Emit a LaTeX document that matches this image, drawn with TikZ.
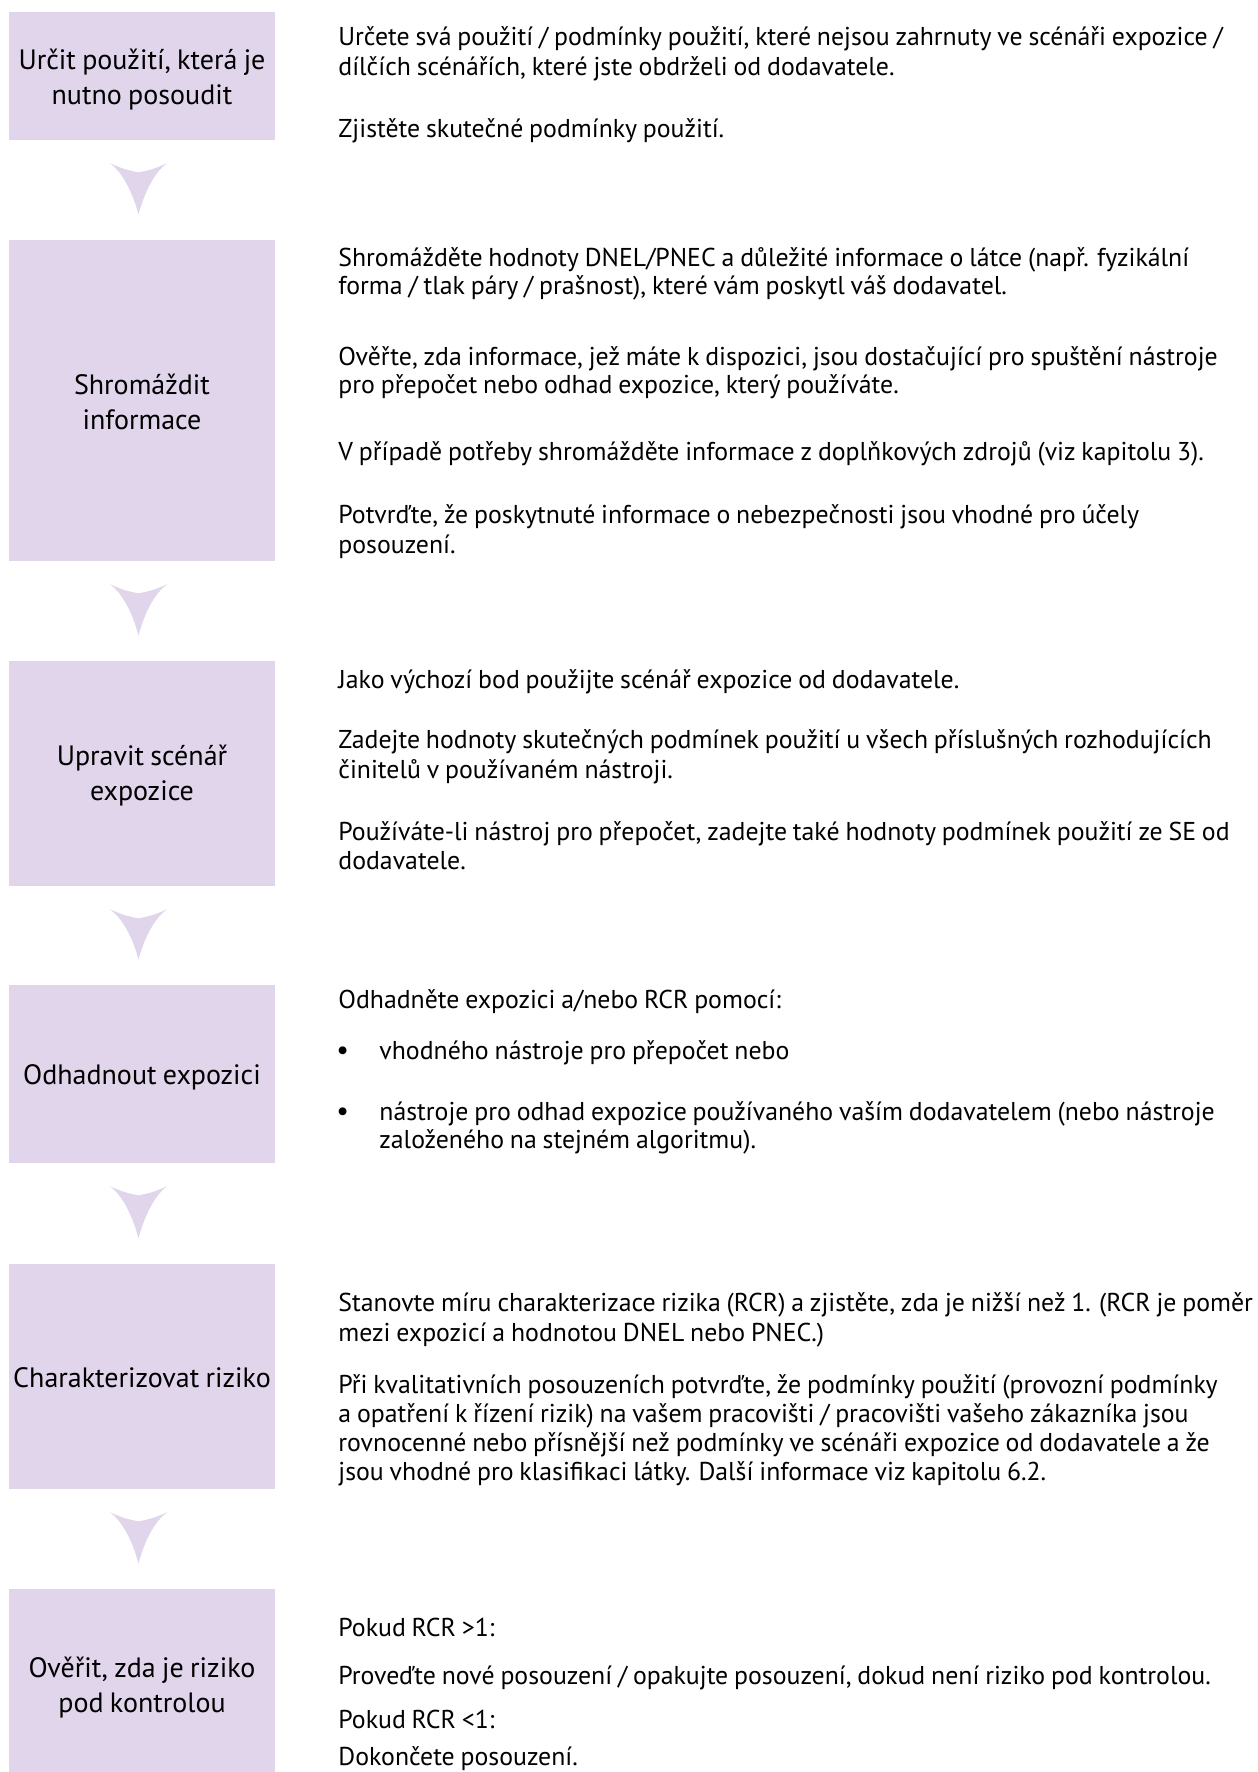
\documentclass[tikz,border=0pt]{standalone}
\usepackage{fontspec}
\setmainfont[WordSpace=0.85]{PT Sans}
\usetikzlibrary{calc}
\definecolor{lav}{RGB}{224,213,235}
\tikzset{
  stepbox/.style={fill=lav, inner sep=0pt, minimum width=133pt},
  boxlabel/.style={inner sep=0pt, align=center, font=\fontsize{14}{17.5}\selectfont},
  rt/.style={anchor=base west, inner sep=0pt, font=\fontsize{12.9}{15}\selectfont},
  flowarrow/.style={fill=lav},
}
\newcommand{\flowarr}[2]{%
  \fill[flowarrow] let \p1=($(#1.south)+(-3.5,23)$), \p2=($(#2.north)+(-3.5,-25)$) in
    (\x1-14.25pt,\y1) .. controls (\x1-7pt,\y1-3pt) .. (\x1,\y1-4.5pt)
    .. controls (\x1+7pt,\y1-3pt) .. (\x1+14.25pt,\y1)
    .. controls (\x1+7pt,\y1-5pt) and (\x1+2pt,\y2+8pt) .. (\x1,\y2)
    .. controls (\x1-2pt,\y2+8pt) and (\x1-7pt,\y1-5pt) .. cycle;}
\begin{document}
\begin{tikzpicture}[x=0.5pt,y=-0.5pt]
\useasboundingbox (0,0) rectangle (1258,1772);
% boxes
\node[stepbox, minimum height=64pt] (b1) at (142,76) {};
\node[stepbox, minimum height=160.5pt] (b2) at (142,400.5) {};
\node[stepbox, minimum height=112.5pt] (b3) at (142,773.5) {};
\node[stepbox, minimum height=89pt] (b4) at (142,1074) {};
\node[stepbox, minimum height=112.5pt] (b5) at (142,1376.5) {};
\node[stepbox, minimum height=91.5pt] (b6) at (142,1680.5) {};
% box labels
\node[boxlabel] (l1) at ($(b1.center)+(0,4)$) {Určit použití, která je\\nutno posoudit};
\node[boxlabel] (l2) at ($(b2.center)+(0,1)$) {Shromáždit\\informace};
\node[boxlabel] (l3) at ($(b3.center)+(0,2)$) {Upravit scénář\\expozice};
\node[boxlabel] (l4) at ($(b4.center)+(0,3)$) {Odhadnout expozici};
\node[boxlabel] (l5) at ($(b5.center)+(0,1)$) {Charakterizovat riziko};
\node[boxlabel] (l6) at ($(b6.center)+(0,7)$) {Ověřit, zda je riziko\\pod kontrolou};
% arrows
\flowarr{b1}{b2}
\flowarr{b2}{b3}
\flowarr{b3}{b4}
\flowarr{b4}{b5}
\flowarr{b5}{b6}
% texts box 1
\node[rt] (r1a) at (338,46) {Určete svá použití / podmínky použití, které nejsou zahrnuty ve scénáři expozice /};
\node[rt] (r1b) at (338,75) {dílčích scénářích, které jste obdrželi od dodavatele.};
\node[rt] (r1c) at (338,137) {Zjistěte skutečné podmínky použití.};
% box 2
\node[rt] (r2a) at (338,266) {Shromážděte hodnoty DNEL/PNEC a důležité informace o látce (např. fyzikální};
\node[rt] (r2b) at (338,294) {forma / tlak páry / prašnost), které vám poskytl váš dodavatel.};
\node[rt] (r2c) at (338,365) {Ověřte, zda informace, jež máte k dispozici, jsou dostačující pro spuštění nástroje};
\node[rt] (r2d) at (338,393) {pro přepočet nebo odhad expozice, který používáte.};
\node[rt] (r2e) at (338,460) {V případě potřeby shromážděte informace z doplňkových zdrojů (viz kapitolu 3).};
\node[rt] (r2f) at (338,523) {Potvrďte, že poskytnuté informace o nebezpečnosti jsou vhodné pro účely};
\node[rt] (r2g) at (338,553) {posouzení.};
% box 3
\node[rt] (r3a) at (338,688) {Jako výchozí bod použijte scénář expozice od dodavatele.};
\node[rt] (r3b) at (338,748) {Zadejte hodnoty skutečných podmínek použití u všech příslušných rozhodujících};
\node[rt] (r3c) at (338,778) {činitelů v používaném nástroji.};
\node[rt] (r3d) at (338,840) {Používáte-li nástroj pro přepočet, zadejte také hodnoty podmínek použití ze SE od};
\node[rt] (r3e) at (338,869) {dodavatele.};
% box 4
\node[rt] (r4a) at (338,1008) {Odhadněte expozici a/nebo RCR pomocí:};
\node[rt] (r4b) at (336,1059) {\fontsize{14}{15}\selectfont •};
\node[rt] (r4c) at (379,1059) {vhodného nástroje pro přepočet nebo};
\node[rt] (r4d) at (336,1120) {\fontsize{14}{15}\selectfont •};
\node[rt] (r4e) at (379,1120) {nástroje pro odhad expozice používaného vaším dodavatelem (nebo nástroje};
\node[rt] (r4f) at (379,1148) {založeného na stejném algoritmu).};
% box 5
\node[rt] (r5a) at (338,1311) {Stanovte míru charakterizace rizika (RCR) a zjistěte, zda je nižší než 1. (RCR je poměr};
\node[rt] (r5b) at (338,1341) {mezi expozicí a hodnotou DNEL nebo PNEC.)};
\node[rt] (r5c) at (338,1393) {Při kvalitativních posouzeních potvrďte, že podmínky použití (provozní podmínky};
\node[rt] (r5d) at (338,1422) {a opatření k řízení rizik) na vašem pracovišti / pracovišti vašeho zákazníka jsou};
\node[rt] (r5e) at (338,1451) {rovnocenné nebo přísnější než podmínky ve scénáři expozice od dodavatele a že};
\node[rt] (r5f) at (338,1480) {jsou vhodné pro klasifikaci látky. Další informace viz kapitolu 6.2.};
% box 6
\node[rt] (r6a) at (338,1636) {Pokud RCR >1:};
\node[rt] (r6b) at (338,1684) {Proveďte nové posouzení / opakujte posouzení, dokud není riziko pod kontrolou.};
\node[rt] (r6c) at (338,1728) {Pokud RCR <1:};
\node[rt] (r6d) at (338,1765) {Dokončete posouzení.};
\end{tikzpicture}
\end{document}
